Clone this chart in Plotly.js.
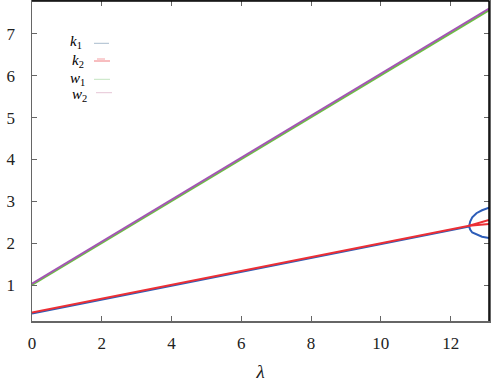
<!DOCTYPE html>
<html><head><meta charset="utf-8">
<script src="https://cdn.plot.ly/plotly-3.0.1.min.js"></script>
<style>html,body{margin:0;padding:0;background:#fff}#plot{width:491px;height:382px}</style>
</head><body><div id="plot"></div>
<script>
// straight part (before bifurcation)
const lamLine = [0, 12.53];
const k1Line = [0.33, 2.405];
const k2Line = [0.35, 2.42];
// blue (k1) bifurcation branches
const lamBranch = [12.53, 12.56, 12.62, 12.74, 12.9, 13.1];
const k1Upper = [2.405, 2.52, 2.62, 2.72, 2.79, 2.85];
const k1Lower = [2.405, 2.33, 2.26, 2.21, 2.16, 2.13];
// red (k2) branches
const lamRed = [12.53, 13.1];
const k2Upper = [2.42, 2.56];
const k2Lower = [2.42, 2.46];
// upper lines
const lamW = [0, 13.1];
const w1 = [1.01, 7.56];
const w2 = [1.04, 7.60];

const xTicks = [0, 2, 4, 6, 8, 10, 12];
const yTicks = [1, 2, 3, 4, 5, 6, 7];
const legendNames = ['k', 'k', 'w', 'w'];
const legendSubs = ['1', '2', '1', '2'];

const FONT = 'Liberation Serif';
const blue = '#2c5cb8', red = '#ec2f35', green = '#6cc043', purple = '#a456b4';

const traces = [
  {x: lamLine.concat([null], lamBranch, [null], lamBranch),
   y: k1Line.concat([null], k1Upper, [null], k1Lower),
   mode: 'lines', line: {color: blue, width: 2}, connectgaps: false},
  {x: lamLine.concat([null], lamRed, [null], lamRed),
   y: k2Line.concat([null], k2Upper, [null], k2Lower),
   mode: 'lines', line: {color: red, width: 2}, connectgaps: false},
  {x: lamW, y: w1, mode: 'lines', line: {color: green, width: 2}},
  {x: lamW, y: w2, mode: 'lines', line: {color: purple, width: 2}}
];

// pixel -> paper helpers for legend decoration
const L = 32, T = 1, W = 457, H = 320;
const px = v => (v - L) / W, py = v => (T + H - v) / H;

const legTextPos = [[76, 42], [78, 61], [77, 79], [79, 95]];
const legLine = [[94, 109, 43.3, '#a9bccd'], [94, 110, 61, '#f07c80'], [94, 110, 79.3, '#c4e4c0'], [96, 112, 92.7, '#e6c6d6']];

const annotations = legendNames.map((n, i) => ({
  xref: 'paper', yref: 'paper', x: px(legTextPos[i][0]), y: py(legTextPos[i][1]),
  xanchor: 'center', yanchor: 'middle', showarrow: false,
  text: '<i>' + n + '</i><sub>' + legendSubs[i] + '</sub>',
  font: {family: FONT, size: 15, color: '#000'}
}));

const shapes = legLine.map(s => ({
  type: 'line', xref: 'paper', yref: 'paper', x0: px(s[0]), x1: px(s[1]), y0: py(s[2]), y1: py(s[2]),
  line: {color: s[3], width: 1}
}));
shapes.push(
  {type: 'line', xref: 'paper', yref: 'paper', x0: 0, x1: 1, y0: 1, y1: 1, line: {color: '#000', width: 1.5}, layer: 'above'},
  {type: 'line', xref: 'paper', yref: 'paper', x0: 1, x1: 1, y0: 0, y1: 1, line: {color: '#000', width: 1.5}, layer: 'above'}
);
shapes.push({type: 'line', xref: 'paper', yref: 'paper', x0: px(97), x1: px(105), y0: py(59), y1: py(59), line: {color: '#f4a0a4', width: 1}});

const axisCommon = {
  showgrid: false, zeroline: false, showline: true, linecolor: '#666', linewidth: 1.5,
  ticks: 'inside', ticklen: 5, tickcolor: '#666', tickwidth: 1, mirror: 'ticks',
  tickfont: {family: FONT, size: 17, color: '#222'}
};

const layout = {
  width: 491, height: 382,
  margin: {l: L, r: 491 - L - W, t: T, b: 382 - T - H},
  paper_bgcolor: '#fff', plot_bgcolor: '#fff',
  showlegend: false,
  font: {family: FONT},
  xaxis: Object.assign({}, axisCommon, {range: [0, 13.1], tickvals: xTicks, ticktext: xTicks.map(String),
    ticklabelstandoff: 6,
    title: {text: '<i>λ</i>', font: {family: FONT, size: 19, color: '#222'}, standoff: 14}}),
  yaxis: Object.assign({}, axisCommon, {range: [0.15, 7.78], tickvals: yTicks, ticktext: yTicks.map(String),
    ticklabelstandoff: 12}),
  annotations: annotations,
  shapes: shapes
};

Plotly.newPlot('plot', traces, layout, {staticPlot: true, displayModeBar: false});
</script></body></html>
